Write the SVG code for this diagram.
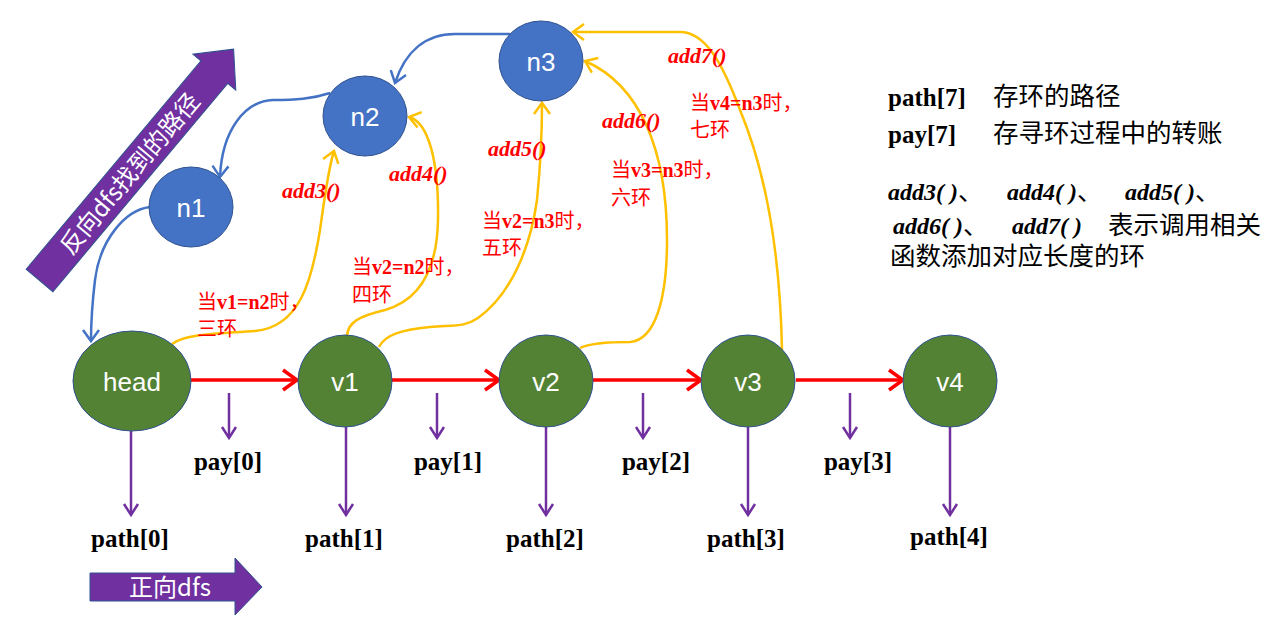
<svg xmlns="http://www.w3.org/2000/svg" width="1277" height="636" viewBox="0 0 1277 636">
<style>
.vn{fill:#548235;stroke:#2F528F;stroke-width:1}
.bn{fill:#4472C4;stroke:#2F528F;stroke-width:1}
.nt{font-family:"Liberation Sans","Noto Sans",sans-serif;font-size:26px;fill:#fff;text-anchor:middle}
.red{fill:none;stroke:#FF0000;stroke-width:3.5}
.pur{fill:none;stroke:#7030A0;stroke-width:2.5}
.yel{fill:none;stroke:#FFC000;stroke-width:2.5}
.blu{fill:none;stroke:#4472C4;stroke-width:2.5}
.lab{font-family:"Liberation Serif","Times New Roman",serif;font-weight:bold;font-size:25px;fill:#000;text-anchor:middle}
.fn{font-family:"Liberation Serif","Times New Roman",serif;font-weight:bold;font-style:italic;font-size:22px;fill:#FF0000}
.cn{font-family:"Liberation Serif","Noto Sans CJK SC",serif;font-size:20px;fill:#FF0000}
.lg{font-family:"Liberation Serif","Times New Roman",serif;font-weight:bold;font-size:25px;fill:#000}
.it{font-family:"Liberation Serif","Times New Roman",serif;font-weight:bold;font-style:italic;font-size:24px}
.lgc{font-family:"Noto Sans CJK SC",sans-serif;font-size:25.5px;fill:#000}
.big{fill:#7030A0;stroke:#2F528F;stroke-width:1}
.bt{font-family:"Noto Sans CJK SC","Liberation Sans",sans-serif;font-size:24px;fill:#fff}
</style>
<defs>
<marker id="mr" markerUnits="userSpaceOnUse" markerWidth="20" markerHeight="24" viewBox="0 0 20 24" refX="17" refY="12" orient="auto"><path d="M3,2 L17,12 L3,22" fill="none" stroke="#FF0000" stroke-width="3.5"/></marker>
<marker id="mp" markerUnits="userSpaceOnUse" markerWidth="18" markerHeight="18" viewBox="0 0 18 18" refX="14" refY="9" orient="auto"><path d="M3,2 L14,9 L3,16" fill="none" stroke="#7030A0" stroke-width="2.5"/></marker>
<marker id="my" markerUnits="userSpaceOnUse" markerWidth="18" markerHeight="20" viewBox="0 0 18 20" refX="14" refY="10" orient="auto"><path d="M3,2 L14,10 L3,18" fill="none" stroke="#FFC000" stroke-width="2.5"/></marker>
<marker id="mb" markerUnits="userSpaceOnUse" markerWidth="18" markerHeight="20" viewBox="0 0 18 20" refX="14" refY="10" orient="auto"><path d="M3,2 L14,10 L3,18" fill="none" stroke="#4472C4" stroke-width="2.5"/></marker>
</defs>

<g id="reverse-arrow" transform="translate(39.5,280.5) rotate(-50)">
<path class="big" d="M0,-17.5 L272,-17.5 L272,-28 L302,0 L272,28 L272,17.5 L0,17.5 Z"/>
<text class="bt" x="140" y="9" text-anchor="middle">反向dfs找到的路径</text>
</g>

<g id="forward-arrow">
<path class="big" d="M90,573 L235,573 L235,558 L262,587 L235,615 L235,601 L90,601 Z"/>
<text class="bt" x="170" y="596" text-anchor="middle">正向dfs</text>
</g>

<g id="connectors">
<path class="red" d="M191,380 L297,380" marker-end="url(#mr)"/>
<path class="red" d="M392,380 L499,380" marker-end="url(#mr)"/>
<path class="red" d="M593,380 L701,380" marker-end="url(#mr)"/>
<path class="red" d="M796,380 L903,380" marker-end="url(#mr)"/>

<path class="pur" d="M131,431 L131,515" marker-end="url(#mp)"/>
<path class="pur" d="M229,393 L229,438" marker-end="url(#mp)"/>
<path class="pur" d="M346,427 L346,515" marker-end="url(#mp)"/>
<path class="pur" d="M437,393 L437,438" marker-end="url(#mp)"/>
<path class="pur" d="M546,427 L546,515" marker-end="url(#mp)"/>
<path class="pur" d="M643,393 L643,438" marker-end="url(#mp)"/>
<path class="pur" d="M748,427 L748,515" marker-end="url(#mp)"/>
<path class="pur" d="M850,393 L850,438" marker-end="url(#mp)"/>
<path class="pur" d="M950,427 L950,515" marker-end="url(#mp)"/>

<path class="yel" d="M172,344 C185,334 215,334 255,331 C300,327 312,280 320,230 C325,195 328,170 334,151" marker-end="url(#my)"/>
<path class="yel" d="M347,337 C347,322 360,316 385,310 C420,300 437,270 438,220 C439,160 428,122 409,117" marker-end="url(#my)"/>
<path class="yel" d="M379,347 C385,335 400,330 430,327 C455,325 465,327 478,318 C510,295 530,250 537,200 C541,160 542,130 542,103" marker-end="url(#my)"/>
<path class="yel" d="M580,348 C590,343 610,342 630,342 C655,340 667,300 667,240 C667,150 640,85 585,61" marker-end="url(#my)"/>
<path class="yel" d="M782,350 C780,250 765,170 740,110 C722,62 705,32 680,32 L573,32" marker-end="url(#my)"/>

<path class="blu" d="M510,34 L455,34 C425,34 405,52 395,83" marker-end="url(#mb)"/>
<path class="blu" d="M330,93 C312,99 295,100 273,100 C245,101 222,130 220,177" marker-end="url(#mb)"/>
<path class="blu" d="M150,207 C125,210 100,240 95,280 C92,305 91,325 91,341" marker-end="url(#mb)"/>
</g>

<g id="head"><ellipse class="vn" cx="132" cy="381" rx="59" ry="50"/><text class="nt" x="132" y="391">head</text></g>
<g id="v1"><ellipse class="vn" cx="345" cy="381" rx="47" ry="46"/><text class="nt" x="345" y="391">v1</text></g>
<g id="v2"><ellipse class="vn" cx="546" cy="381" rx="47" ry="46"/><text class="nt" x="546" y="391">v2</text></g>
<g id="v3"><ellipse class="vn" cx="748" cy="381" rx="47" ry="46"/><text class="nt" x="748" y="391">v3</text></g>
<g id="v4"><ellipse class="vn" cx="950" cy="381" rx="47" ry="46"/><text class="nt" x="950" y="391">v4</text></g>
<g id="n1"><ellipse class="bn" cx="191" cy="207" rx="42" ry="40"/><text class="nt" x="191" y="217">n1</text></g>
<g id="n2"><ellipse class="bn" cx="365" cy="116" rx="42" ry="40"/><text class="nt" x="365" y="126">n2</text></g>
<g id="n3"><ellipse class="bn" cx="541" cy="61" rx="42" ry="40"/><text class="nt" x="541" y="71">n3</text></g>

<g id="labels">
<text class="lab" x="228" y="470">pay[0]</text>
<text class="lab" x="448" y="470">pay[1]</text>
<text class="lab" x="656" y="470">pay[2]</text>
<text class="lab" x="858" y="470">pay[3]</text>
<text class="lab" x="130" y="547">path[0]</text>
<text class="lab" x="344" y="547">path[1]</text>
<text class="lab" x="545" y="547">path[2]</text>
<text class="lab" x="746" y="547">path[3]</text>
<text class="lab" x="949" y="545">path[4]</text>

<text class="fn" x="282" y="198">add3()</text>
<text class="fn" x="389" y="181">add4()</text>
<text class="fn" x="488" y="156">add5()</text>
<text class="fn" x="602" y="128">add6()</text>
<text class="fn" x="668" y="63">add7()</text>

<text class="cn" x="197" y="309">当<tspan font-weight="bold">v1=n2</tspan>时，</text>
<text class="cn" x="197" y="336">三环</text>
<text class="cn" x="352" y="274">当<tspan font-weight="bold">v2=n2</tspan>时，</text>
<text class="cn" x="352" y="302">四环</text>
<text class="cn" x="482" y="228">当<tspan font-weight="bold">v2=n3</tspan>时，</text>
<text class="cn" x="482" y="255">五环</text>
<text class="cn" x="611" y="177">当<tspan font-weight="bold">v3=n3</tspan>时，</text>
<text class="cn" x="611" y="205">六环</text>
<text class="cn" x="690" y="110">当<tspan font-weight="bold">v4=n3</tspan>时，</text>
<text class="cn" x="690" y="137">七环</text>
</g>

<g id="legend">
<text class="lg" x="888" y="106">path[7]</text>
<text class="lgc" x="993" y="105">存环的路径</text>
<text class="lg" x="888" y="143">pay[7]</text>
<text class="lgc" x="993" y="142">存寻环过程中的转账</text>
<text class="lgc" y="200"><tspan class="it" x="888">add3( )</tspan>、<tspan class="it" x="1007">add4( )</tspan>、<tspan class="it" x="1125">add5( )</tspan>、</text>
<text class="lgc" y="234"><tspan class="it" x="893">add6( )</tspan>、<tspan class="it" x="1012">add7( )</tspan><tspan x="1108">表示调用相关</tspan></text>
<text class="lgc" x="890" y="265">函数添加对应长度的环</text>
</g>
</svg>
